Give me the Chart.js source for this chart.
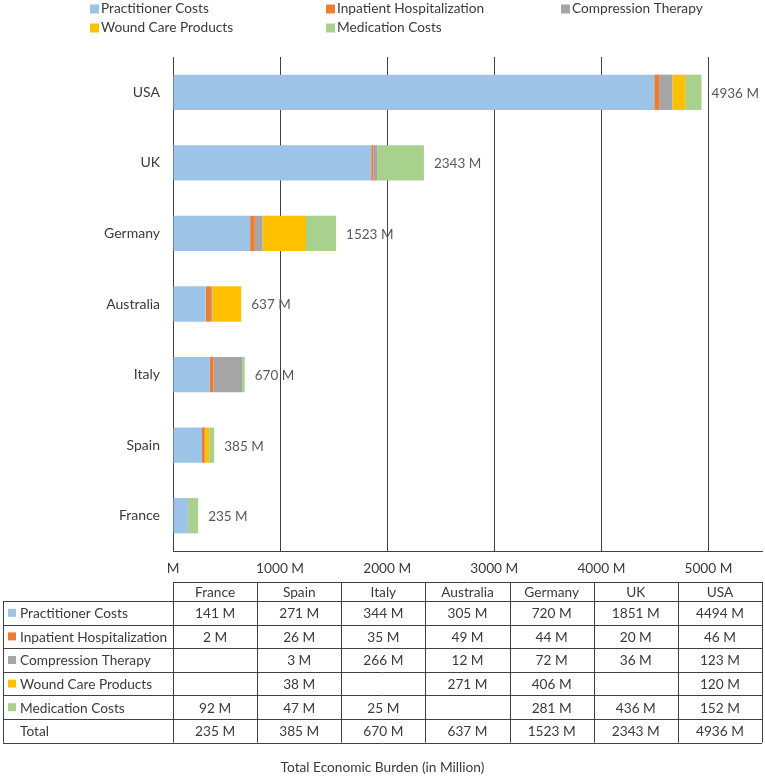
<!DOCTYPE html>
<html>
<head>
<meta charset="utf-8">
<script src="https://cdn.jsdelivr.net/npm/chart.js@4"></script>
<style>
body{margin:0;background:#fff;}
</style>
</head>
<body>
<canvas id="burdenChart" width="765" height="777"></canvas>
<script>
// values (million)
const countries = ["France","Spain","Italy","Australia","Germany","UK","USA"];
const practitioner = [141,271,344,305,720,1851,4494];
const inpatient = [2,26,35,49,44,20,46];
const compression = [null,3,266,12,72,36,123];
const woundCare = [null,38,null,271,406,null,120];
const medication = [92,47,25,null,281,436,152];
const totals = [235,385,670,637,1523,2343,4936];
const xTickValues = [0,1000,2000,3000,4000,5000];

const FONT = "Lato";
const TEXT = "#3a3a3a";
const LINE = "#404040";

const seriesNames = ["Practitioner Costs","Inpatient Hospitalization","Compression Therapy","Wound Care Products","Medication Costs"];
const seriesColors = ["#9DC3E6","#ED7D31","#A5A5A5","#FFC000","#A9D18E"];
const seriesData = [practitioner,inpatient,compression,woundCare,medication];

function fmt(v){
if(v===null || v===undefined) return "";
return v+" M";
}

// legend in columns like the original
const legendPlugin = {
id:"gridLegend",
afterDraw(chart){
let ctx = chart.ctx;
ctx.save();
ctx.font = "13.7px " + FONT;
ctx.textBaseline = "middle";
ctx.textAlign = "left";
let colX = [90,326,561];
let rowY = [9,28];
chart.data.datasets.forEach((ds,i)=>{
let x = colX[i%3];
let y = rowY[Math.floor(i/3)];
ctx.fillStyle = ds.backgroundColor;
ctx.fillRect(x,y-4.5,9,9);
ctx.fillStyle = TEXT;
ctx.fillText(ds.label,x+11,y);
});
ctx.restore();
}
};

// total labels at the end of each bar
const totalsPlugin = {
id:"totals",
afterDatasetsDraw(chart){
let ctx = chart.ctx;
let xs = chart.scales.x;
let meta = chart.getDatasetMeta(0);
ctx.save();
ctx.font = "13.5px " + FONT;
ctx.fillStyle = "#595959";
ctx.textBaseline = "middle";
ctx.textAlign = "left";
totals.forEach((t,i)=>{
let x = xs.getPixelForValue(t);
let y = meta.data[i].y;
ctx.fillText(fmt(t),x+10,y+1);
});
ctx.restore();
}
};

// data table under the axis
const tablePlugin = {
id:"dataTable",
afterDraw(chart){
let ctx = chart.ctx;
let area = chart.chartArea;
let left = area.left, right = area.right;
let colW = (right-left)/countries.length;
let headTop = area.bottom + 31;
let headH = 19;
let rowH = 23.6;
let outerLeft = 3;
let rows = seriesNames.length + 1;
let bottom = headTop + headH + rows*rowH;
let px = v=>Math.round(v)+0.5;

ctx.save();
ctx.strokeStyle = LINE;
ctx.lineWidth = 1;
ctx.beginPath();
// header row
ctx.moveTo(left,px(headTop)); ctx.lineTo(right,px(headTop));
for(let c=0;c<=countries.length;c++){
let x = px(left+c*colW);
ctx.moveTo(x,headTop); ctx.lineTo(x,bottom);
}
// body rows
for(let r=0;r<=rows;r++){
let y = px(headTop+headH+r*rowH);
ctx.moveTo(outerLeft,y); ctx.lineTo(right,y);
}
ctx.moveTo(px(outerLeft),headTop+headH); ctx.lineTo(px(outerLeft),bottom);
ctx.stroke();

ctx.font = "13.7px " + FONT;
ctx.fillStyle = TEXT;
ctx.textBaseline = "middle";
ctx.textAlign = "center";
countries.forEach((c,i)=>{
ctx.fillText(c,left+colW*(i+0.5),headTop+headH/2+1);
});

let allRows = seriesData.concat([totals]);
allRows.forEach((vals,r)=>{
let y = headTop+headH+rowH*(r+0.5)+1;
ctx.textAlign = "left";
if(r<seriesNames.length){
ctx.fillStyle = seriesColors[r];
ctx.fillRect(8,y-5,8,8);
ctx.fillStyle = TEXT;
ctx.fillText(seriesNames[r],20,y);
}else{
ctx.fillStyle = TEXT;
ctx.fillText("Total",20,y);
}
ctx.textAlign = "center";
vals.forEach((v,i)=>{
ctx.fillText(fmt(v),left+colW*(i+0.5),y);
});
});

ctx.fillStyle = TEXT;
ctx.fillText("Total Economic Burden (in Million)",chart.width/2,768);
ctx.restore();
}
};

let ctx = document.getElementById("burdenChart");

let chart = new Chart(ctx,{
type:"bar",
data:{
labels:countries,
datasets:seriesNames.map((name,i)=>({
label:name,
data:seriesData[i],
backgroundColor:seriesColors[i],
borderWidth:0,
barPercentage:0.5,
categoryPercentage:1
}))
},
options:{
indexAxis:"y",
responsive:false,
animation:false,
devicePixelRatio:1,
layout:{padding:{top:57,right:3,left:0,bottom:0}},
plugins:{
legend:{display:false},
tooltip:{enabled:false}
},
scales:{
x:{
stacked:true,
min:0,
max:5500,
afterBuildTicks(scale){
scale.ticks = xTickValues.map(v=>({value:v}));
},
afterFit(scale){
scale.height = 226;
},
grid:{color:LINE,lineWidth:1,drawTicks:false},
border:{display:true,color:LINE},
ticks:{
padding:9,
color:TEXT,
font:{family:FONT,size:13.7},
maxRotation:0,
callback:v=>v===0 ? "M" : v+" M"
}
},
y:{
stacked:true,
reverse:true,
afterFit(scale){
scale.width = 173;
},
grid:{display:false,drawTicks:false},
border:{display:false},
ticks:{
padding:13,
color:TEXT,
font:{family:FONT,size:14}
}
}
}
},
plugins:[legendPlugin,totalsPlugin,tablePlugin]
});
</script>
</body>
</html>
